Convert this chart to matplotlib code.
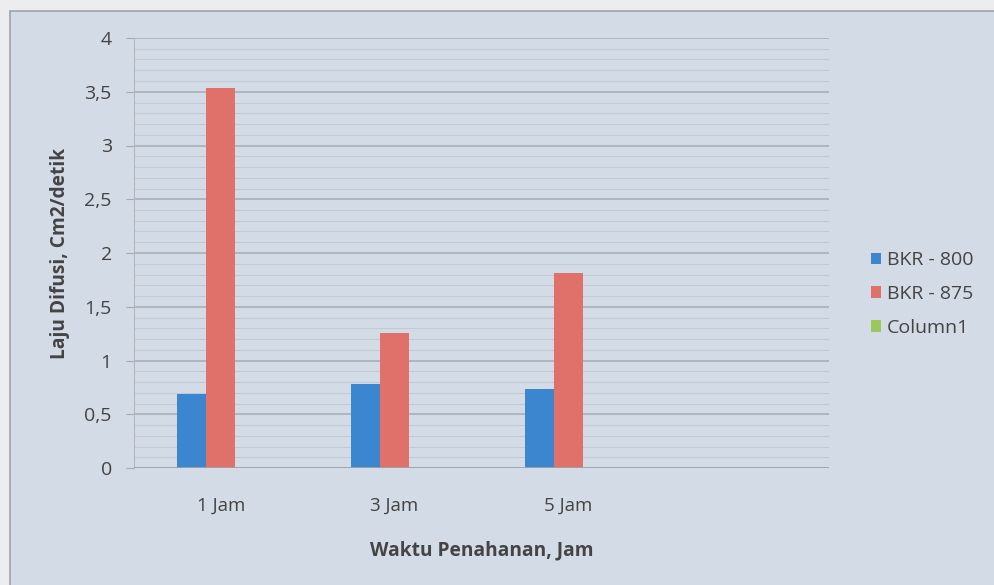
import numpy as np
import matplotlib
matplotlib.use("Agg")
import matplotlib.pyplot as plt
from matplotlib.patches import Rectangle
from matplotlib.ticker import FuncFormatter, MultipleLocator

plt.rcParams['font.family'] = ['Open Sans', 'DejaVu Sans']

categories = ['1 Jam', '3 Jam', '5 Jam', '']
bkr_800 = [0.69, 0.78, 0.735, np.nan]
bkr_875 = [3.535, 1.26, 1.81, np.nan]
column1 = [0, 0, 0, np.nan]
series_names = ['BKR - 800', 'BKR - 875', 'Column1']
colors = ['#3b86cf', '#e0706a', '#9cc75c']

W, H = 994, 585
fig = plt.figure(figsize=(W / 100, H / 100), dpi=100, facecolor='#ededf0')

# chart area panel
fig.patches.append(Rectangle((10 / W, -0.02), 1.0, (H - 11) / H + 0.02,
                             transform=fig.transFigure, facecolor='#d3dbe6',
                             edgecolor='#9ea3ab', linewidth=1.2, zorder=-10))

left, right, top, bottom = 134, 829, 38, 468
ax = fig.add_axes([left / W, (H - bottom) / H, (right - left) / W, (bottom - top) / H])
ax.set_facecolor('none')

x = np.arange(len(categories))
bw = 1 / 6
for i, (vals, name, c) in enumerate(zip([bkr_800, bkr_875, column1], series_names, colors)):
    ax.bar(x + (i - 1) * bw, vals, width=bw, color=c, label=name, zorder=3)

ax.set_xlim(-0.5, len(categories) - 0.5)
ax.set_ylim(0, 4)
ax.yaxis.set_major_locator(MultipleLocator(0.5))
ax.yaxis.set_minor_locator(MultipleLocator(0.1))
ax.yaxis.set_major_formatter(FuncFormatter(lambda v, p: f'{v:g}'.replace('.', ',')))
ax.grid(which='major', axis='y', color='#a6abb3', linewidth=1.1, zorder=1)
ax.grid(which='minor', axis='y', color='#c3c9d2', linewidth=0.8, zorder=1)
ax.set_xticks(x)
ax.set_xticklabels(categories)

for s in ['top', 'right', 'bottom']:
    ax.spines[s].set_visible(False)
ax.spines['left'].set_color('#b3b8bf')
ax.axhline(0, color='#9ea3ab', linewidth=1.2, zorder=4)

ax.tick_params(axis='y', which='major', length=6, color='#a6abb3', pad=10,
               labelsize=14, labelcolor='#444444')
ax.tick_params(axis='y', which='minor', length=0)
ax.tick_params(axis='x', length=0, pad=21, labelsize=13.5, labelcolor='#444444')

fig.text(60 / W, (H - 253) / H, 'Laju Difusi, Cm2/detik', rotation=90,
         ha='center', va='center', fontsize=13.8, fontweight='bold', color='#444444')
fig.text(482 / W, (H - 550) / H, 'Waktu Penahanan, Jam',
         ha='center', va='center', fontsize=13.8, fontweight='bold', color='#444444')

ax.legend(loc='center left', bbox_to_anchor=(853 / W, (H - 294) / H),
          bbox_transform=fig.transFigure, frameon=False, fontsize=14,
          handlelength=0.55, handleheight=0.55, handletextpad=0.3,
          labelspacing=0.8, labelcolor='#444444')

fig.savefig('out.png', dpi=100, facecolor=fig.get_facecolor())
